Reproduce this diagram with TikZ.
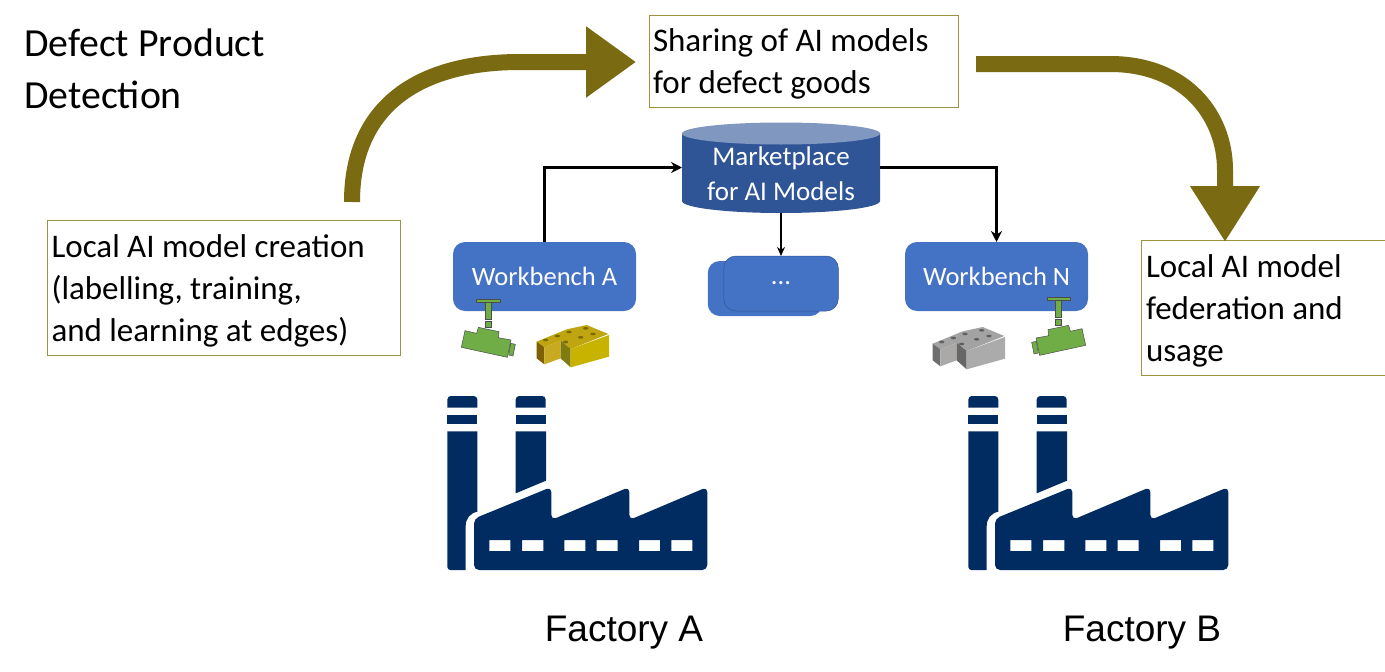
\documentclass[tikz,border=0pt]{standalone}
\usepackage{fontspec}
\setmainfont{Carlito}
\newfontfamily\arialfont{Liberation Sans}
\usetikzlibrary{arrows.meta}
\definecolor{olivearrow}{HTML}{7A6A12}
\definecolor{oliveline}{HTML}{9C9440}
\definecolor{boxblue}{HTML}{4472C4}
\definecolor{cylbody}{HTML}{2F5597}
\definecolor{cyltop}{HTML}{8097C0}
\definecolor{factoryblue}{HTML}{002C62}
\definecolor{camgreen}{HTML}{70AD47}
\tikzset{
  textbox/.style = {draw = oliveline, line width = 0.8pt, inner sep = 0, outer sep = 0, anchor = north west, align = flush left, font = \fontsize{33}{42}\selectfont, execute at begin node = \rule{0pt}{29pt}},
  workbench/.style = {fill = boxblue, rounded corners = 12pt, inner sep = 0, outer sep = 0, text = white, align = center, minimum width = 183, minimum height = 69, font = \fontsize{26.5}{30}\selectfont},
  bigarrow/.style = {draw = olivearrow, line width = 16pt, -{Triangle[length = 50pt, width = 68pt]}},
  flow/.style = {draw = black, line width = 2.2pt, -{Stealth[length = 11pt, width = 11pt]}},
  zoomunits/.style = {x = 1pt/3, y = -1pt/3},
  factory/.style = {fill = factoryblue},
  camera/.style = {draw = black!70, line width = 0.5pt, fill = camgreen}
}
\begin{document}
\begin{tikzpicture}[x = 1pt, y = -1pt]
  \useasboundingbox (0, 0) rectangle (1385, 672);

  % text
  \node [anchor = north west, inner sep = 0, align = left, font = \fontsize{39.8}{52}\selectfont] (title) at (24, 29) {Defect Product\\Detection};
  \node [textbox, minimum width = 353, minimum height = 135, text width = 348] (creation) at (47, 220) {\hspace*{2pt}Local AI model creation\\\hspace*{2pt}(labelling, training,\\\hspace*{2pt}and learning at edges)};
  \node [textbox, minimum width = 309, minimum height = 92, text width = 305] (sharing) at (649, 15) {\hspace*{2pt}Sharing of AI models\\\hspace*{2pt}for defect goods};
  \node [textbox, minimum width = 244, minimum height = 135, text width = 240] (federation) at (1141, 240) {\hspace*{3pt}Local AI model\\\hspace*{3pt}federation and\\\hspace*{3pt}usage};

  % big arrows
  \coordinate (leftstart) at (352, 202);
  \coordinate (lefttip) at (636, 62);
  \coordinate (rightstart) at (976, 64);
  \coordinate (righttip) at (1225, 242);
  \draw [bigarrow] (leftstart) .. controls (352, 105) and (420, 62) .. (520, 62) -- (lefttip);
  \draw [bigarrow, -{Triangle[length = 56pt, width = 66pt]}] (rightstart) -- (1110, 64) .. controls (1185, 64) and (1225, 115) .. (1225, 170) -- (righttip);

  % blue boxes
  \fill [cylbody] (682, 133) -- (682, 201) arc [x radius = 99, y radius = 12, start angle = 180, end angle = 0] -- (880, 133) -- cycle;
  \fill [cyltop] (781, 133.5) ellipse [x radius = 99, y radius = 11];
  \node [inner sep = 0, outer sep = 0, minimum width = 198, minimum height = 91] (market) at (781, 167.5) {};
  \node [text = white, align = center, inner sep = 0, font = \fontsize{27}{35}\selectfont] (markettext) at (781, 173.5) {Marketplace\\for AI Models};
  \node [workbench] (wba) at (544.5, 276.5) {Workbench A};
  \node [workbench] (wbn) at (996.5, 276.5) {Workbench N};
  \node [workbench, minimum width = 114.5, minimum height = 55] (dotsback) at (765, 288.5) {};
  \node [workbench, draw = cylbody, line width = 0.5pt, minimum width = 114.5, minimum height = 55] (dots) at (781, 283.5) {...};

  \draw [flow] (wba.north) |- (market.west);
  \draw [flow] (market.east) -| (wbn.north);
  \draw [flow, line width = 1.4pt, -{Stealth[length = 9pt, width = 8pt]}] (market.south) -- (dots.north);

  % factories
  \foreach \fx in {440, 961} {
    \begin{scope}[shift = {(\fx, 230)}, zoomunits]
      \foreach \cx in {22, 227} {
        \fill [factory] (\cx, 533) [rounded corners = 3.5pt] -- (\cx, 498) -- (\cx + 90, 498) [sharp corners] -- (\cx + 90, 533) -- cycle;
        \fill [factory] (\cx, 556) rectangle (\cx + 90, 581);
      }
      \fill [factory] (22, 604) -- (112, 604) -- (112, 845) .. controls (90, 850) and (77, 865) .. (77, 890) -- (77, 1020) [rounded corners = 3pt] -- (22, 1020) [sharp corners] -- cycle;
      \fill [factory] (227, 604) -- (318, 604) -- (318, 752) -- (227, 790) -- cycle;
      \fill [factory, even odd rule] (102, 1020) [rounded corners = 5pt] -- (102, 866) -- (334, 771) -- (334, 870) -- (568, 771) -- (568, 870) -- (802, 771) -- (802, 1020) -- cycle
        [sharp corners] (148, 930) rectangle (211, 963)
        (246, 930) rectangle (310, 963)
        (373, 930) rectangle (436, 963)
        (470, 930) rectangle (533, 963)
        (597, 930) rectangle (660, 963)
        (694, 930) rectangle (757, 963);
    \end{scope}
  }
  \node [anchor = base, inner sep = 0, font = \arialfont\fontsize{37}{40}\selectfont] (factorya) at (624, 641) {Factory A};
  \node [anchor = base, inner sep = 0, font = \arialfont\fontsize{37}{40}\selectfont] (factoryb) at (1142, 641) {Factory B};

  % cameras
  \foreach \cx/\cy/\cs in {440/230/1, 1107/228/-1} {
    \begin{scope}[shift = {(\cx, \cy)}, xscale = \cs, zoomunits]
      \draw [camera] (110, 208) rectangle (180, 217);
      \draw [camera] (136, 217) rectangle (154, 268);
      \draw [camera] (136, 273) rectangle (154, 292);
      \draw [camera] (75, 302) -- (110, 310) -- (115, 292) -- (177, 305) -- (175, 323) -- (213, 330) -- (202, 382) -- (64, 352) -- cycle;
      \draw [camera] (212, 340) -- (226, 343) -- (219, 378) -- (206, 375) -- cycle;
    \end{scope}
  }

  % bricks
  \foreach \bx/\by/\bleft/\bmid/\btop/\bshade/\bfront/\bstud in {
      440/230/7F5F00/C8AA20/BFA510/807A10/C8B400/7A6A00,
      836/232/6E6E6E/ABA8A8/A3A3A3/666666/ABABAB/5F5F5F} {
    \begin{scope}[shift = {(\bx, \by)}, zoomunits]
      \definecolor{brickleft}{HTML}{\bleft}
      \definecolor{brickmid}{HTML}{\bmid}
      \definecolor{bricktop}{HTML}{\btop}
      \definecolor{brickshade}{HTML}{\bshade}
      \definecolor{brickfront}{HTML}{\bfront}
      \definecolor{brickstud}{HTML}{\bstud}
      \fill [bricktop] (290, 335) -- (380, 298) -- (440, 285) -- (505, 312) -- (392, 357) -- (362, 332) -- (313, 352) -- cycle;
      \fill [brickleft] (290, 335) -- (313, 352) -- (313, 403) -- (290, 385) -- cycle;
      \fill [brickmid] (313, 352) -- (362, 332) -- (362, 385) -- (313, 403) -- cycle;
      \fill [brickshade] (362, 332) -- (392, 357) -- (392, 412) -- (362, 385) -- cycle;
      \fill [brickfront] (392, 357) -- (507, 315) -- (507, 380) -- (392, 412) -- cycle;
      \foreach \sx/\sy in {320/330, 355/318, 390/306, 440/295, 380/336, 425/322, 462/312} {
        \fill [brickstud] (\sx - 3, \sy) ellipse [x radius = 8, y radius = 4];
      }
    \end{scope}
  }
\end{tikzpicture}
\end{document}
